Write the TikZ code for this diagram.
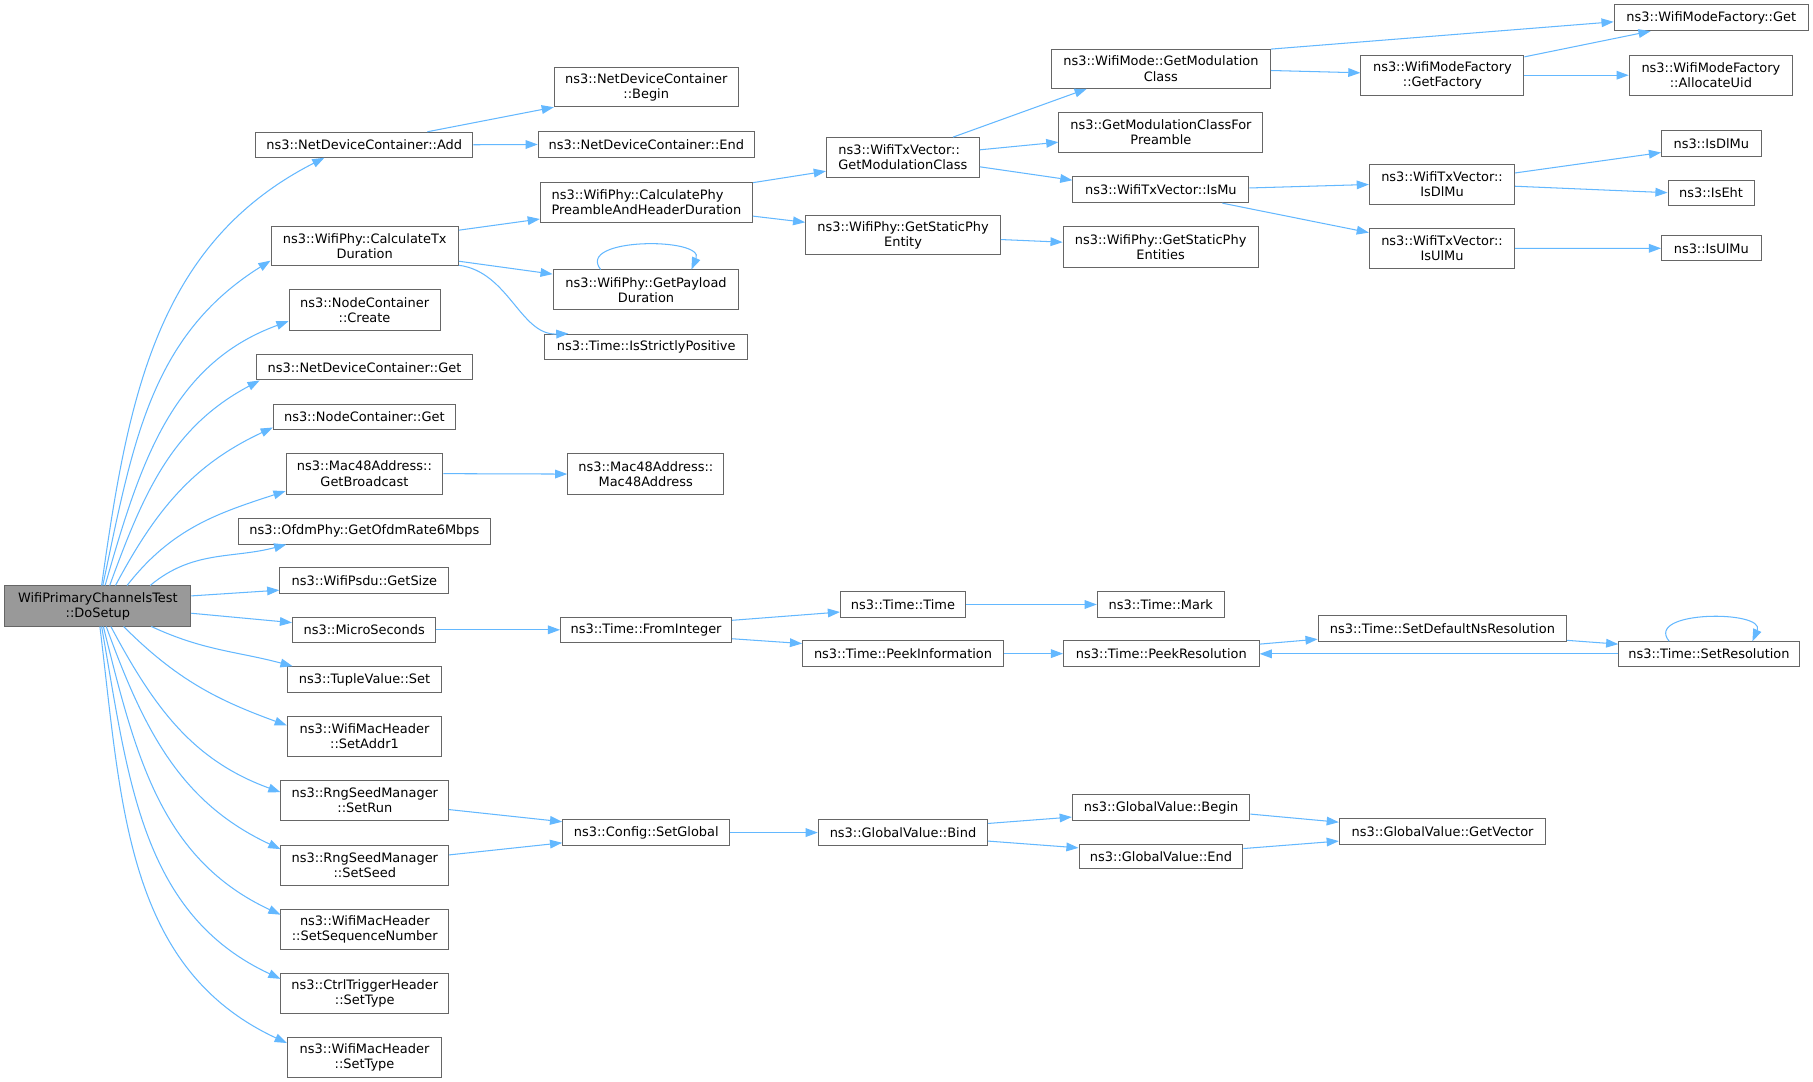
\documentclass[tikz,border=0pt]{standalone}
\usepackage{fontspec}
\setmainfont{DejaVu Sans}
\usetikzlibrary{arrows.meta,calc}
\definecolor{edgec}{HTML}{63B8FF}
\definecolor{bord}{HTML}{666666}
\definecolor{rootf}{HTML}{999999}
\newcommand{\mybox}[7][]{\node[box,#1,minimum width={(#5-#3)*1pt},minimum height={(#6-#4)*1pt}] (#2) at ({(#3+#5)/2},{(#4+#6)/2}) {#7};}
\begin{document}
\begin{tikzpicture}[x=1pt,y=-1pt,
  box/.style={draw=bord,line width=0.85pt,fill=white,inner sep=0pt,align=center,font=\fontsize{11.2}{13}\selectfont},
  rootbox/.style={fill=rootf},
  lal/.style={align=left},
  e/.style={draw=edgec,line width=0.9pt,-{Triangle[length=10.5pt,width=7.5pt]}}]
\useasboundingbox (0,0) rectangle (1568,935.7);
\fill[white] (0,0) rectangle (1568,935.7);
% nodes
\mybox[rootbox]{root}{4.3}{506.8}{165}{541.4}{WifiPrimaryChannelsTest\\::DoSetup}
\mybox{add}{221}{114.4}{409}{136}{ns3::NetDeviceContainer::Add}
\mybox{calctx}{234.4}{195.5}{396.4}{230}{ns3::WifiPhy::CalculateTx\\Duration}
\mybox{create}{250}{250.8}{380.6}{285.4}{ns3::NodeContainer\\::Create}
\mybox{ndcget}{222}{307}{408.5}{328.6}{ns3::NetDeviceContainer::Get}
\mybox{ncget}{236.4}{349.4}{393.8}{371.3}{ns3::NodeContainer::Get}
\mybox{getbc}{247.4}{392}{383}{427.3}{ns3::Mac48Address::\\GetBroadcast}
\mybox{ofdm}{206}{448.3}{424.4}{470.5}{ns3::OfdmPhy::GetOfdmRate6Mbps}
\mybox{getsize}{242}{490.6}{388.3}{513}{ns3::WifiPsdu::GetSize}
\mybox{micro}{253}{533.9}{377}{555.5}{ns3::MicroSeconds}
\mybox{tuple}{248.5}{576.6}{382}{598.7}{ns3::TupleValue::Set}
\mybox{setaddr}{248.5}{619.8}{382}{654.4}{ns3::WifiMacHeader\\::SetAddr1}
\mybox{setrun}{243}{674.6}{388}{709.7}{ns3::RngSeedManager\\::SetRun}
\mybox{setseed}{243}{730.8}{388}{765.4}{ns3::RngSeedManager\\::SetSeed}
\mybox{setseq}{243}{786.5}{388}{821}{ns3::WifiMacHeader\\::SetSequenceNumber}
\mybox{ctrl}{243}{842}{388}{876.6}{ns3::CtrlTriggerHeader\\::SetType}
\mybox{settype}{248.5}{897.5}{382}{932}{ns3::WifiMacHeader\\::SetType}
\mybox{ndcbegin}{479.4}{58.2}{638.4}{92.3}{ns3::NetDeviceContainer\\::Begin}
\mybox{ndcend}{465.5}{113.9}{652.6}{136}{ns3::NetDeviceContainer::End}
\mybox[lal]{calcphy}{467.3}{157.4}{650.8}{192}{ns3::WifiPhy::CalculatePhy\\PreambleAndHeaderDuration}
\mybox{payload}{478.4}{233.5}{639}{268}{ns3::WifiPhy::GetPayload\\Duration}
\mybox{strict}{471}{289}{646.8}{311}{ns3::Time::IsStrictlyPositive}
\mybox{mac48}{491}{392.5}{626}{427.5}{ns3::Mac48Address::\\Mac48Address}
\mybox{fromint}{484.8}{533.9}{632.7}{555.5}{ns3::Time::FromInteger}
\mybox{setglobal}{486.6}{709.1}{631.3}{731}{ns3::Config::SetGlobal}
\mybox[lal]{txgetmod}{714.7}{119}{847}{153.7}{ns3::WifiTxVector::\\GetModulationClass}
\mybox{staticent}{696.8}{186.2}{865.2}{220.5}{ns3::WifiPhy::GetStaticPhy\\Entity}
\mybox{ttime}{726.9}{511.7}{835}{533.9}{ns3::Time::Time}
\mybox{peekinfo}{694.1}{554}{867.9}{576.6}{ns3::Time::PeekInformation}
\mybox{bind}{707.7}{709.1}{854.2}{731}{ns3::GlobalValue::Bind}
\mybox{wmgetmod}{909.3}{42.4}{1098.7}{76.4}{ns3::WifiMode::GetModulation\\Class}
\mybox{forpre}{915.8}{97.1}{1092.2}{131.7}{ns3::GetModulationClassFor\\Preamble}
\mybox{ismu}{927.9}{153}{1080.1}{175.3}{ns3::WifiTxVector::IsMu}
\mybox{entities}{919.5}{196.3}{1088.1}{231}{ns3::WifiPhy::GetStaticPhy\\Entities}
\mybox{mark}{949}{511.7}{1058.7}{533.9}{ns3::Time::Mark}
\mybox{peekres}{919.8}{554}{1089}{576.6}{ns3::Time::PeekResolution}
\mybox{gvbegin}{927.4}{687.5}{1081}{709.2}{ns3::GlobalValue::Begin}
\mybox{gvend}{933.2}{730}{1075}{751.5}{ns3::GlobalValue::End}
\mybox{getfactory}{1177}{47.6}{1318}{82.5}{ns3::WifiModeFactory\\::GetFactory}
\mybox{txdlmu}{1184.3}{142}{1310}{176.7}{ns3::WifiTxVector::\\IsDlMu}
\mybox{txulmu}{1184.3}{197.8}{1310}{232}{ns3::WifiTxVector::\\IsUlMu}
\mybox{setdef}{1140}{532.5}{1355}{554.4}{ns3::Time::SetDefaultNsResolution}
\mybox{getvec}{1158.3}{708}{1337}{730}{ns3::GlobalValue::GetVector}
\mybox{wmfget}{1396}{4.3}{1564}{26.5}{ns3::WifiModeFactory::Get}
\mybox{alloc}{1409}{47.6}{1550.4}{82.5}{ns3::WifiModeFactory\\::AllocateUid}
\mybox{isdlmu}{1437}{113}{1523}{135}{ns3::IsDlMu}
\mybox{iseht}{1442.6}{155.7}{1517}{177.6}{ns3::IsEht}
\mybox{isulmu}{1437}{203.8}{1523}{225.7}{ns3::IsUlMu}
\mybox{setres}{1400}{555}{1556}{576}{ns3::Time::SetResolution}
% root edges (upwards)
\draw[e] ($(root.north west)+(84,0)$) to[out=82,in=207] ($(add.south west)+(60,0)$);
\draw[e] ($(root.north west)+(85,0)$) to[out=78,in=212] ($(calctx.south west)+(0,-5)$);
\draw[e] ($(root.north west)+(87,0)$) to[out=74,in=200] ($(create.south west)+(0,-8)$);
\draw[e] ($(root.north west)+(91,0)$) to[out=70,in=208] ($(ndcget.south west)+(3,0)$);
\draw[e] ($(root.north west)+(96,0)$) to[out=62,in=205] ($(ncget.south west)+(0,-2)$);
\draw[e] ($(root.north west)+(106,0)$) to[out=52,in=198] ($(getbc.south west)+(0,-3)$);
\draw[e] ($(root.north west)+(126,0)$) to[out=40,in=195] ($(ofdm.south west)+(42,0)$);
\draw[e] ($(root.north east)+(0,9)$) -- ($(getsize.south west)+(0,-3)$);
\draw[e] ($(root.north east)+(0,24)$) -- ($(micro.north west)+(0,5)$);
% root edges (downwards)
\draw[e] ($(root.south west)+(127,0)$) to[out=-25,in=165] ($(tuple.north west)+(5,0)$);
\draw[e] ($(root.south west)+(103,0)$) to[out=-45,in=160] ($(setaddr.north west)+(0,8)$);
\draw[e] ($(root.south west)+(92,0)$) to[out=-62,in=160] ($(setrun.north west)+(0,11)$);
\draw[e] ($(root.south west)+(88,0)$) to[out=-70,in=155] ($(setseed.north west)+(0,4)$);
\draw[e] ($(root.south west)+(85.5,0)$) to[out=-76,in=155] ($(setseq.north west)+(0,5)$);
\draw[e] ($(root.south west)+(84,0)$) to[out=-80,in=155] ($(ctrl.north west)+(0,5)$);
\draw[e] ($(root.south west)+(82.5,0)$) to[out=-83,in=155] ($(settype.north west)+(0,5)$);
% level 1 -> 2
\draw[e] ($(add.north west)+(149,0)$) -- (ndcbegin.south west);
\draw[e] (add.east) -- (ndcend.west);
\draw[e] ($(calctx.north east)+(0,4)$) -- ($(calcphy.south west)+(0,-3)$);
\draw[e] ($(calctx.south east)+(0,-4.5)$) -- ($(payload.north west)+(0,4)$);
\draw[e] ($(calctx.south east)+(0,-1)$) .. controls (440,235) and (450,290) .. ($(strict.north west)+(21,0)$);
\draw[e] (getbc.east) -- (mac48.west);
\draw[e] (micro.east) -- (fromint.west);
\draw[e] ($(setrun.north east)+(0,26)$) -- ($(setglobal.north west)+(0,2)$);
\draw[e] ($(setseed.north east)+(0,9)$) -- ($(setglobal.south west)+(0,-2.5)$);
% level 2 -> 3
\draw[e] ($(payload.north west)+(41.5,0)$) .. controls +(-22,-28) and +(12,-28) .. ($(payload.north west)+(120,0)$);
\draw[e] ($(calcphy.north east)+(0,1)$) -- ($(txgetmod.north west)+(0,29.5)$);
\draw[e] ($(calcphy.south east)+(0,-5.5)$) -- ($(staticent.north west)+(0,6.5)$);
\draw[e] ($(fromint.north east)+(0,3)$) -- ($(ttime.south west)+(0,-5)$);
\draw[e] ($(fromint.south east)+(0,-3.5)$) -- ($(peekinfo.north west)+(0,3)$);
\draw[e] (setglobal.east) -- (bind.west);
% level 3 -> 4
\draw[e] ($(txgetmod.north west)+(110,0)$) -- ($(wmgetmod.south west)+(31,0)$);
\draw[e] ($(txgetmod.north east)+(0,11)$) -- ($(forpre.north west)+(0,26.3)$);
\draw[e] ($(txgetmod.north east)+(0,25.7)$) -- ($(ismu.north west)+(0,3.3)$);
\draw[e] ($(staticent.north east)+(0,21.4)$) -- ($(entities.north west)+(0,13.6)$);
\draw[e] (ttime.east) -- (mark.west);
\draw[e] (peekinfo.east) -- (peekres.west);
\draw[e] ($(bind.north east)+(0,3.5)$) -- ($(gvbegin.south west)+(0,-3)$);
\draw[e] ($(bind.south east)+(0,-4)$) -- ($(gvend.north west)+(0,3.7)$);
% level 4 -> 5
\draw[e] ($(wmgetmod.north east)+(0,0.5)$) -- ($(wmfget.north west)+(0,15)$);
\draw[e] ($(wmgetmod.north east)+(0,19)$) -- ($(getfactory.north west)+(0,15.8)$);
\draw[e] ($(ismu.north east)+(0,10)$) -- ($(txdlmu.north west)+(0,18)$);
\draw[e] ($(ismu.south west)+(129.7,0)$) -- ($(txulmu.north west)+(0,3.8)$);
\draw[e] ($(peekres.north east)+(0,3.5)$) -- ($(setdef.south west)+(0,-2)$);
\draw[e] ($(gvbegin.north east)+(0,17)$) -- ($(getvec.north west)+(0,3.5)$);
\draw[e] ($(gvend.north east)+(0,4.3)$) -- ($(getvec.south west)+(0,-3)$);
% level 5 -> 6
\draw[e] ($(getfactory.north east)+(0,2)$) -- ($(wmfget.south west)+(32,0)$);
\draw[e] (getfactory.east) -- (alloc.west);
\draw[e] ($(txdlmu.north east)+(0,8)$) -- ($(isdlmu.south west)+(0,-3.5)$);
\draw[e] ($(txdlmu.north east)+(0,19.5)$) -- (iseht.west);
\draw[e] (txulmu.east) -- (isulmu.west);
\draw[e] ($(setdef.south east)+(0,-1)$) -- ($(setres.north west)+(0,2.5)$);
\draw[e] (setres.west) -- (setres.west -| peekres.east);
\draw[e] ($(setres.north west)+(44,0)$) .. controls +(-22,-27) and +(12,-27) .. ($(setres.north west)+(116,0)$);
\end{tikzpicture}
\end{document}
